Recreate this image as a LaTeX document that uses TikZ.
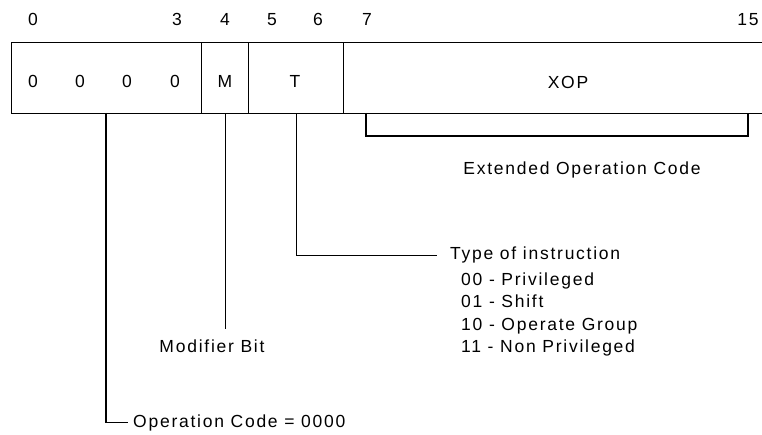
\documentclass[tikz,border=0pt]{standalone}
\usepackage{fontspec}
\setmainfont{Liberation Sans}[LetterSpace=10]
\begin{document}
\begin{tikzpicture}[x=1pt,y=-1pt,
  every node/.style={font=\fontsize{17.5}{21}\selectfont},
  cell/.style={draw, line width=1.4pt, minimum height=71pt, inner sep=0pt, anchor=north west},
  bitno/.style={anchor=base, inner sep=0pt},
  field/.style={anchor=base, inner sep=0pt},
  lbl/.style={anchor=base west, inner sep=0pt},
  conn/.style={line width=1.4pt}]
\useasboundingbox (0,0) rectangle (762,435);

% instruction word cells
\node[cell, minimum width=190pt] (op) at (11,42) {};
\node[cell, minimum width=47pt]  (cM) at (201,42) {};
\node[cell, minimum width=95pt]  (cT) at (248,42) {};
\node[cell, minimum width=430pt] (cX) at (343,42) {};

% bit numbers
\node[bitno] (b0)  at (33,26)  {0};
\node[bitno] (b3)  at (177,26) {3};
\node[bitno] (b4)  at (225,26) {4};
\node[bitno] (b5)  at (272,26) {5};
\node[bitno] (b6)  at (318,26) {6};
\node[bitno] (b7)  at (367,26) {7};
\node[bitno] (b15) at (748,26) {15};

% field contents
\node[field] (z0) at (33,88)  {0};
\node[field] (z1) at (80,88)  {0};
\node[field] (z2) at (127,88) {0};
\node[field] (z3) at (175,88) {0};
\node[field] (fM) at (225,88) {M};
\node[field] (fT) at (295,88) {T};
\node[field] (fX) at (568,89) {XOP};

% extended operation code bracket
\coordinate (xl) at (366,113);
\coordinate (xr) at (748,113);
\draw[conn] (xl) -- ++(0,23) -| (xr);
\node[field] (ext) at (582,175) {Extended Operation Code};

% type of instruction
\node[lbl] (typeHead) at (450,260) {Type of instruction};
\node[lbl] (t00) at (461,286) {00 - Privileged};
\node[lbl] (t01) at (461,307) {01 - Shift};
\node[lbl] (t10) at (461,330) {10 - Operate Group};
\node[lbl] (t11) at (461,352) {11 - Non Privileged};
\draw[conn] (cT.south) |- ([xshift=-13pt]typeHead.west);

% modifier bit
\node[field] (modifier) at (212,352) {Modifier Bit};
\draw[conn] (cM.south) -- ([yshift=10pt]cM.south |- modifier.north);

% operation code
\coordinate (opTap) at (106,113);
\node[lbl] (opcode) at (133,427) {Operation Code = 0000};
\draw[conn] (opTap) |- ([xshift=-5pt]opcode.west);
\end{tikzpicture}
\end{document}
